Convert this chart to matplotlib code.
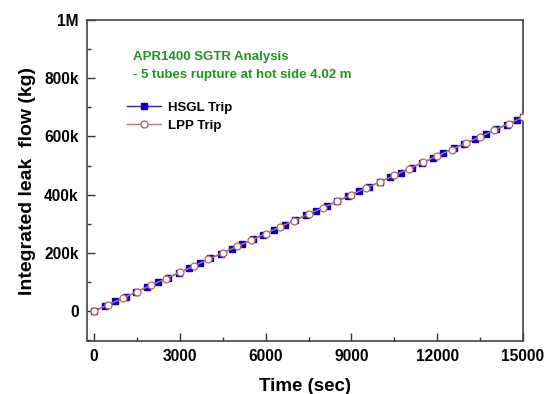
import matplotlib
matplotlib.use('Agg')
import matplotlib.pyplot as plt
from matplotlib.ticker import MultipleLocator, FixedLocator, FixedFormatter
from matplotlib.lines import Line2D

plt.rcParams['font.family'] = ['Liberation Sans', 'DejaVu Sans']
plt.rcParams['font.weight'] = 'bold'

# HSGL Trip (time in s, integrated leak flow in kg)
hsgl_t = [0, 370, 740, 1110, 1480, 1850, 2220, 2590, 2960, 3330, 3700, 4070,
          4440, 4810, 5180, 5550, 5920, 6290, 6660, 7030, 7400, 7770, 8140,
          8510, 8880, 9250, 9620, 9990, 10360, 10730, 11100, 11470, 11840,
          12210, 12580, 12950, 13320, 13690, 14060, 14430, 14800, 15000]
hsgl_k = [0, 16, 33, 49, 66, 82, 99, 115, 131, 148, 164, 181, 197, 214, 230,
          246, 263, 279, 296, 312, 329, 345, 361, 378, 394, 411, 427, 444,
          460, 476, 493, 509, 526, 542, 559, 575, 591, 608, 624, 641, 657, 666]

# LPP Trip
lpp_t = [0, 500, 1000, 1500, 2000, 2500, 3000, 3500, 4000, 4500, 5000, 5500,
         6000, 6500, 7000, 7500, 8000, 8500, 9000, 9500, 10000, 10500, 11000,
         11500, 12000, 12500, 13000, 13500, 14000, 14500, 15000]
lpp_k = [0, 22, 44, 67, 89, 111, 133, 155, 178, 200, 222, 244, 266, 289, 311,
         333, 355, 377, 400, 422, 444, 466, 488, 511, 533, 555, 577, 599, 622,
         644, 666]

y_ticks = [0, 200000, 400000, 600000, 800000, 1000000]
y_labels = ['0', '200k', '400k', '600k', '800k', '1M']
x_ticks = [0, 3000, 6000, 9000, 12000, 15000]

hsgl_y = [v * 1000 for v in hsgl_k]
lpp_y = [v * 1000 for v in lpp_k]

fig = plt.figure(figsize=(5.5, 3.94), dpi=100)
ax = fig.add_axes([0.158, 0.1345, 0.793, 0.8145])

ax.plot(hsgl_t, hsgl_y, color='#2a2ab8', lw=1.0, marker='s', ms=4,
        mfc='#0000c8', mec='#0000c8', zorder=2)
ax.plot(lpp_t, lpp_y, color='#c07878', lw=1.0, marker='o', ms=5,
        mfc='white', mec='#c06060', mew=0.9, zorder=3)

ax.set_xlim(-250, 15000)
ax.set_ylim(-103000, 1000000)
ax.xaxis.set_major_locator(FixedLocator(x_ticks))
ax.xaxis.set_minor_locator(MultipleLocator(1500))
ax.yaxis.set_major_locator(FixedLocator(y_ticks))
ax.yaxis.set_major_formatter(FixedFormatter(y_labels))
ax.yaxis.set_minor_locator(MultipleLocator(100000))

ax.tick_params(which='both', direction='in', top=False, right=False,
               color='#333333', width=1.0)
ax.tick_params(which='major', length=6, labelsize=11.2, pad=6)
ax.tick_params(which='minor', length=3)
for lab in ax.get_xticklabels() + ax.get_yticklabels():
    lab.set_fontweight('bold')
for sp in ax.spines.values():
    sp.set_color('#444444')
    sp.set_linewidth(1.2)

ax.set_xlabel('Time (sec)', fontsize=13.5, fontweight='bold', labelpad=10)
ax.set_ylabel('Integrated leak  flow (kg)', fontsize=14, fontweight='bold',
              labelpad=6)

ax.text(0.106, 0.885, 'APR1400 SGTR Analysis', transform=ax.transAxes,
        color='#1e961e', fontsize=9.5, fontweight='bold', va='center')
ax.text(0.106, 0.83, '- 5 tubes rupture at hot side 4.02 m',
        transform=ax.transAxes, color='#1e961e', fontsize=9.5,
        fontweight='bold', va='center')

handles = [
    Line2D([], [], color='#2a2ab8', lw=1.0, marker='s', ms=4,
           mfc='#0000c8', mec='#0000c8'),
    Line2D([], [], color='#c07878', lw=1.0, marker='o', ms=5,
           mfc='white', mec='#c06060'),
]
ax.legend(handles, ['HSGL Trip', 'LPP Trip'], loc='upper left',
          bbox_to_anchor=(0.07, 0.775), frameon=False,
          prop={'weight': 'bold', 'size': 9.5}, handlelength=2.6,
          handletextpad=0.5, labelspacing=0.45, borderpad=0.2)

fig.savefig('out.png', dpi=100)
